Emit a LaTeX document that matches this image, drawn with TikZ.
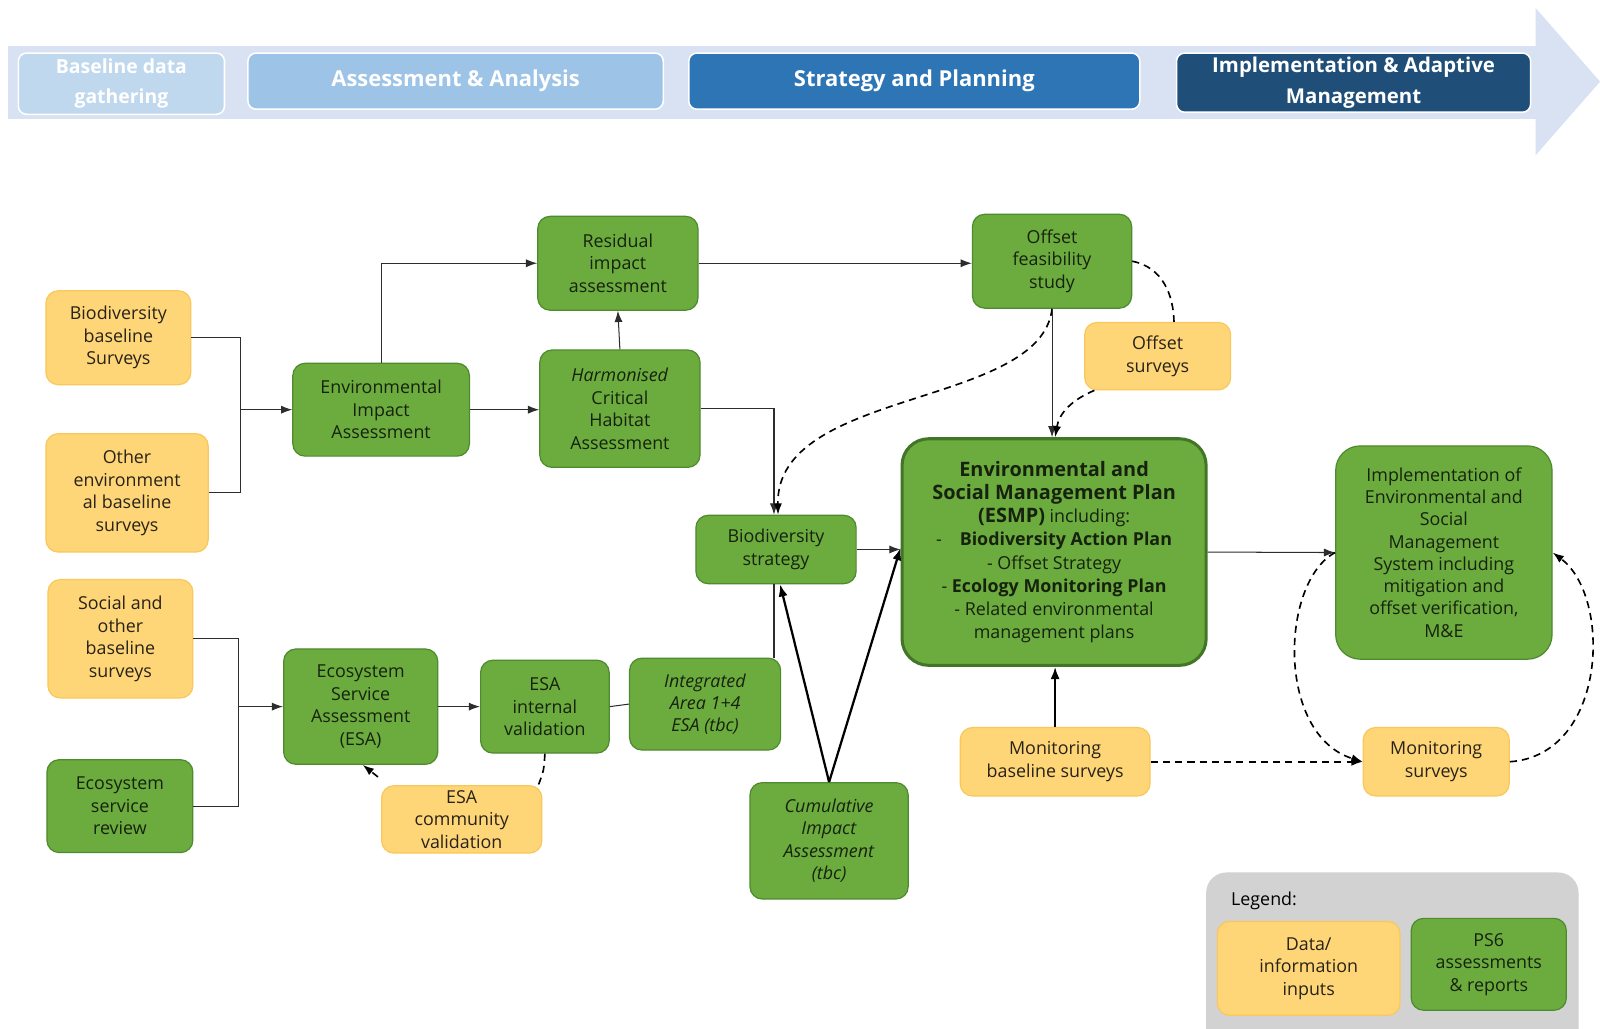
\documentclass[tikz,border=0pt]{standalone}
\usepackage{fontspec}
\setmainfont{Open Sans}
\usetikzlibrary{arrows.meta}
\definecolor{gfill}{RGB}{108,172,62}
\definecolor{gborder}{RGB}{78,138,46}
\definecolor{gtext}{RGB}{22,34,14}
\definecolor{yfill}{RGB}{254,214,120}
\definecolor{yborder}{RGB}{250,200,90}
\definecolor{ytext}{RGB}{40,34,24}
\definecolor{bandcol}{RGB}{216,226,242}
\definecolor{phaseA}{RGB}{192,216,238}
\definecolor{phaseB}{RGB}{157,195,230}
\definecolor{phaseC}{RGB}{46,117,182}
\definecolor{phaseD}{RGB}{31,78,121}
\definecolor{legbg}{RGB}{210,210,210}
\definecolor{linecol}{RGB}{45,45,45}
\begin{document}
\begin{tikzpicture}[x=1pt,y=-1pt,
  nodefont/.style={font=\fontsize{17.5}{22}\selectfont},
  greenbox/.style={draw=gborder, fill=gfill, rounded corners=12pt, line width=1.2pt,
    align=center, text=gtext, inner sep=2pt, nodefont},
  yellowbox/.style={draw=yborder, fill=yfill, rounded corners=12pt, line width=1.2pt,
    align=center, text=ytext, inner sep=2pt, nodefont},
  phase/.style={draw=white, line width=1.5pt, rounded corners=8pt, text=white,
    align=center, inner sep=2pt},
  arr/.style={draw=linecol, line width=1pt, -{Latex[length=11pt,width=8pt]}},
  plain/.style={draw=linecol, line width=1pt},
  thickarr/.style={draw=black, line width=2.2pt, -{Latex[length=12pt,width=9pt]}},
  darr/.style={draw=black, line width=1.6pt, dash pattern=on 7pt off 5pt, -{Latex[length=11pt,width=8pt]}},
  dline/.style={draw=black, line width=1.6pt, dash pattern=on 7pt off 5pt}
]
\useasboundingbox (0,0) rectangle (1568,1008);
\fill[white] (0,0) rectangle (1568,1008);

% ---- banner ----
\fill[bandcol] (8,45) rectangle (1508,117);
\fill[bandcol] (1505,8) -- (1568,80) -- (1505,152) -- cycle;
\node[phase, fill=phaseA, minimum width=202, minimum height=60, font=\fontsize{19}{29}\selectfont\bfseries] (ph1) at (119,82) {Baseline data\\gathering};
\node[phase, fill=phaseB, minimum width=407, minimum height=55, font=\fontsize{21.5}{29}\selectfont\bfseries] (ph2) at (446.5,79.5) {Assessment \& Analysis};
\node[phase, fill=phaseC, minimum width=442, minimum height=55, font=\fontsize{21.5}{29}\selectfont\bfseries] (ph3) at (896,79.5) {Strategy and Planning};
\node[phase, fill=phaseD, minimum width=347, minimum height=58, font=\fontsize{20}{30}\selectfont\bfseries] (ph4) at (1326.5,81) {Implementation \& Adaptive\\Management};

% ---- left inputs ----
\node[yellowbox, minimum width=142, minimum height=92] (bio) at (116,331) {Biodiversity\\baseline\\Surveys};
\node[yellowbox, minimum width=159, minimum height=116] (other) at (124.5,483) {Other\\environment\\al baseline\\surveys};
\node[yellowbox, minimum width=142, minimum height=116] (social) at (118,626) {Social and\\other\\baseline\\surveys};
\node[greenbox, minimum width=143, minimum height=91] (ecorev) at (117.5,790) {Ecosystem\\service\\review};

% ---- assessments ----
\node[greenbox, minimum width=173, minimum height=91] (eia) at (373.5,401.5) {Environmental\\Impact\\Assessment};
\node[greenbox, minimum width=157, minimum height=92] (resid) at (605.5,258) {Residual\\impact\\assessment};
\node[greenbox, minimum width=157, minimum height=115] (harm) at (607.5,400.5) {\textit{Harmonised}\\Critical\\Habitat\\Assessment};
\node[greenbox, minimum width=151, minimum height=113] (esa) at (353.5,692.5) {Ecosystem\\Service\\Assessment\\(ESA)};
\node[greenbox, minimum width=126, minimum height=91] (esaint) at (534,692.5) {ESA\\internal\\validation};
\node[greenbox, minimum width=148, minimum height=90] (integ) at (691,690) {\textit{Integrated}\\\textit{Area 1+4}\\\textit{ESA (tbc)}};
\node[yellowbox, minimum width=157, minimum height=66] (esacom) at (452.5,803) {ESA\\community\\validation};
\node[greenbox, minimum width=157, minimum height=67] (biostrat) at (760.5,538.5) {Biodiversity\\strategy};
\node[greenbox, minimum width=155, minimum height=114] (cia) at (812.5,824) {\textit{Cumulative}\\\textit{Impact}\\\textit{Assessment}\\\textit{(tbc)}};
\node[greenbox, minimum width=156, minimum height=92] (ofs) at (1031,256) {Offset\\feasibility\\study};
\node[yellowbox, minimum width=143, minimum height=66] (ofsurv) at (1134.5,349) {Offset\\surveys};

\node[greenbox, draw=gborder!85!black, line width=3pt, rounded corners=26pt, minimum width=298, minimum height=222,
  font=\fontsize{17.5}{22.8}\selectfont] (esmp) at (1033,541)
  {{\fontsize{19.5}{24.5}\selectfont\bfseries Environmental and}\\
   {\fontsize{19.5}{24.5}\selectfont\bfseries Social Management Plan}\\
   {\fontsize{19.5}{24.5}\selectfont\bfseries (ESMP)} including:\\
   -\quad{\bfseries Biodiversity Action Plan}\\
   - Offset Strategy\\
   - {\bfseries Ecology Monitoring Plan}\\
   - Related environmental\\
   management plans};

\node[greenbox, rounded corners=24pt, minimum width=212, minimum height=209,
  font=\fontsize{17.5}{21.8}\selectfont] (impl) at (1415,541.5)
  {Implementation of\\Environmental and\\Social\\Management\\System including\\mitigation and\\offset verification,\\M\&E};
\node[yellowbox, minimum width=186, minimum height=67] (monbase) at (1034,746.5) {Monitoring\\baseline surveys};
\node[yellowbox, minimum width=143, minimum height=67] (monsurv) at (1407.5,746.5) {Monitoring\\surveys};

% ---- legend ----
\fill[legbg] (1182,855) [rounded corners=20pt] rectangle (1547,1030);
\node[anchor=west, text=black, nodefont] (leglabel) at (1203,883) {Legend:};
\node[yellowbox, minimum width=179, minimum height=92] (legdata) at (1282.5,949) {Data/\\information\\inputs};
\node[greenbox, minimum width=152, minimum height=90] (legps) at (1459,945) {PS6\\assessments\\\& reports};

% ---- connectors ----
\coordinate (j1) at (236,401.5);
\draw[plain] (bio.east) -| (j1);
\draw[plain] (other.east) -| (j1);
\draw[arr] (j1) -- (eia.west);
\draw[arr] (eia.north) |- (resid.west);
\draw[arr] (eia.east) -- (eia.east -| harm.west);
\draw[arr] (harm.north) -- (resid.south);
\draw[arr] (resid.east) -- (resid.east -| ofs.west);
\draw[arr] (harm.east) -| ([xshift=-2pt]biostrat.north);
\draw[darr] (ofs.south) .. controls (1020,400) and (760,380) .. ([xshift=2pt]biostrat.north);
\draw[arr] (ofs.south) -- (ofs.south |- esmp.north);
\draw[dline] (ofs.east) .. controls (1140,262) and (1150,290) .. ([xshift=16pt]ofsurv.north);
\draw[darr] ([xshift=-62pt]ofsurv.south) .. controls (1050,392) and (1038,405) .. ([xshift=1pt]esmp.north);

\coordinate (j2) at (234,692.5);
\draw[plain] (social.east) -| (j2);
\draw[plain] (ecorev.east) -| (j2);
\draw[arr] (j2) -- (esa.west);
\draw[arr] (esa.east) -- (esaint.west);
\draw[plain] (esaint.east) -- (integ.west);
\draw[dline] (esaint.south) .. controls (533,755) .. ([xshift=-4pt]esacom.north east);
\draw[darr] ([xshift=-3pt,yshift=8pt]esacom.north west) -- ([xshift=2pt]esa.south);
\draw[plain] ([xshift=-2pt]biostrat.south |- integ.north) -- ([xshift=-2pt]biostrat.south);
\draw[thickarr] (cia.north) -- ([xshift=4pt]biostrat.south);
\draw[thickarr] (cia.north) -- ([yshift=4pt]esmp.west);
\draw[arr] (biostrat.east) -- (biostrat.east -| esmp.west);
\draw[thickarr] (monbase.north) -- (monbase.north |- esmp.south);
\draw[darr] (monbase.east) -- (monbase.east -| monsurv.west);
\draw[arr] (esmp.east) -- (impl.west);
\draw[darr] (impl.west) .. controls (1255,570) and (1250,720) .. (monsurv.west);
\draw[darr] (monsurv.east) .. controls (1575,740) and (1580,585) .. (impl.east);
\end{tikzpicture}
\end{document}
